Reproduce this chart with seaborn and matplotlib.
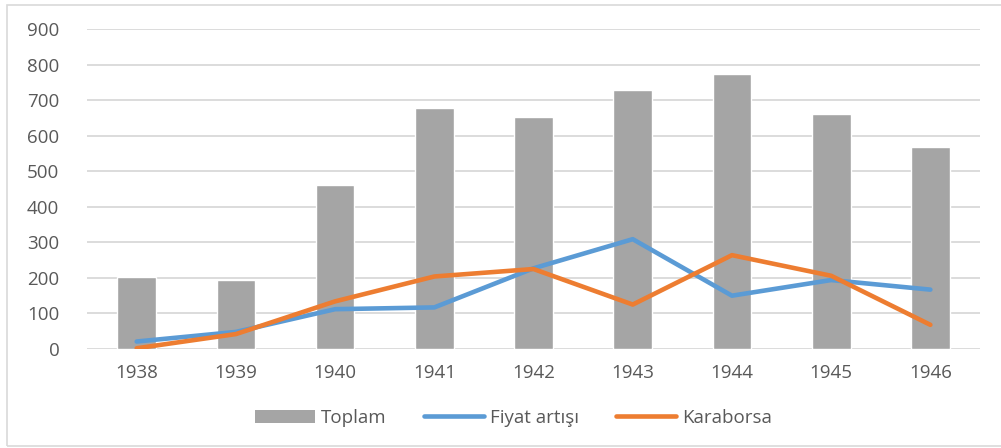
import pandas as pd
import matplotlib
matplotlib.use('Agg')
import matplotlib.pyplot as plt
import seaborn as sns
from matplotlib.patches import Patch, Rectangle
from matplotlib.lines import Line2D

# Values
years = ['1938', '1939', '1940', '1941', '1942', '1943', '1944', '1945', '1946']
toplam = [203, 194, 461, 677, 653, 730, 774, 660, 569]
fiyat_artisi = [21, 48, 112, 117, 227, 309, 150, 194, 167]
karaborsa = [2, 42, 134, 204, 225, 125, 264, 206, 68]

bar_color = '#A5A5A5'
blue = '#5B9BD5'
orange = '#ED7D31'
text_color = '#595959'

sns.set_style('white')
plt.rcParams['font.family'] = ['Open Sans', 'DejaVu Sans']

bars_df = pd.DataFrame({'year': years, 'Toplam': toplam})
lines_df = pd.DataFrame({'year': years, 'Fiyat artışı': fiyat_artisi, 'Karaborsa': karaborsa})
lines_long = lines_df.melt(id_vars='year', var_name='series', value_name='value')

fig = plt.figure(figsize=(10.01, 4.48), dpi=100)
ax = fig.add_axes([0.087, 0.221, 0.892, 0.714])

sns.barplot(data=bars_df, x='year', y='Toplam', color=bar_color, width=0.39,
            saturation=1, ax=ax, zorder=2)
sns.pointplot(data=lines_long, x='year', y='value', hue='series',
              palette={'Fiyat artışı': blue, 'Karaborsa': orange},
              markers='', errorbar=None, linewidth=3.3, ax=ax, zorder=3)

ax.set_ylim(0, 900)
ax.set_xlim(-0.5, len(years) - 0.5)
ax.set_yticks(range(0, 901, 100))
ax.yaxis.grid(True, color='#D9D9D9', linewidth=1.3, zorder=0)
ax.set_axisbelow(True)
for s in ax.spines.values():
    s.set_visible(False)
ax.tick_params(axis='both', length=0, labelsize=13.5, colors=text_color)
ax.tick_params(axis='y', pad=20)
ax.tick_params(axis='x', pad=11)
ax.set_xlabel('')
ax.set_ylabel('')

if ax.get_legend() is not None:
    ax.get_legend().remove()

handles = [
    Patch(facecolor=bar_color, edgecolor='none'),
    Line2D([0], [0], color=blue, linewidth=3.3),
    Line2D([0], [0], color=orange, linewidth=3.3),
]
fig.legend(handles, ['Toplam', 'Fiyat artışı', 'Karaborsa'],
           loc='center', bbox_to_anchor=(0.513, 0.067), ncol=3, frameon=False,
           fontsize=13.5, labelcolor=text_color, handlelength=3.2,
           handletextpad=0.3, columnspacing=2.0)

# light border round the chart, as in the reference
fig.patches.append(Rectangle((0.0065, 0.004), 1.0, 0.985, transform=fig.transFigure,
                             fill=False, edgecolor='#D9D9D9', linewidth=1.2))

fig.savefig('out.png', dpi=100)
